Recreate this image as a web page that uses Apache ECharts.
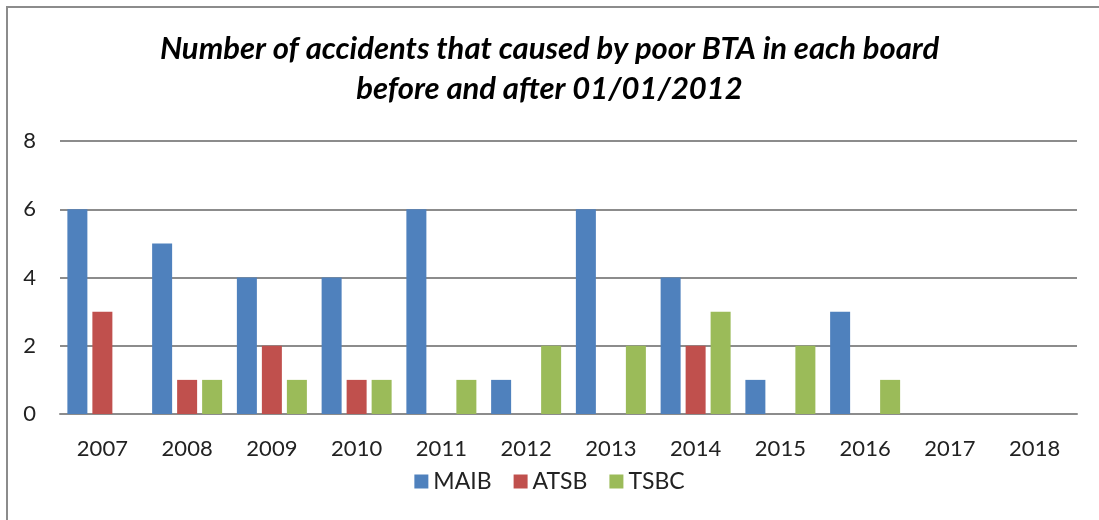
<!DOCTYPE html>
<html>
<head>
<meta charset="utf-8">
<script src="https://cdn.jsdelivr.net/npm/echarts@6/dist/echarts.min.js"></script>
<style>
  html, body { margin: 0; padding: 0; background: #fff; overflow: hidden; }
  #chart { width: 1099px; height: 520px; }
  .frame { position: absolute; left: 6px; top: 6px; right: 0; bottom: 0; border-left: 2px solid #8c8c8c; border-top: 2px solid #8c8c8c; pointer-events: none; }
</style>
</head>
<body>
<div id="chart"></div>
<div class="frame"></div>
<script>
const years = ["2007", "2008", "2009", "2010", "2011", "2012", "2013", "2014", "2015", "2016", "2017", "2018"]
const maib = [6, 5, 4, 4, 6, 1, 6, 4, 1, 3, 0, 0]
const atsb = [3, 1, 2, 1, 0, 0, 0, 2, 0, 0, 0, 0]
const tsbc = [0, 1, 1, 1, 1, 2, 2, 3, 2, 1, 0, 0]
const yTicks = { min: 0, max: 8, interval: 2 }

const chart = echarts.init(document.getElementById("chart"))

const bar = (name, data, color) => ({
  name,
  type: "bar",
  data,
  barWidth: 20,
  barGap: "25%",
  itemStyle: { color },
})

chart.setOption({
  animation: false,
  textStyle: { fontFamily: "Lato" },
  title: {
    text: "Number of accidents that caused by poor BTA in each board\nbefore and after 01/01/2012",
    left: "center",
    top: 24,
    textStyle: {
      fontFamily: "Lato",
      fontSize: 31,
      fontWeight: "bold",
      fontStyle: "italic",
      color: "#000",
      lineHeight: 40,
    },
  },
  legend: {
    bottom: 22,
    left: "center",
    itemWidth: 14,
    itemHeight: 14,
    itemGap: 22,
    icon: "rect",
    textStyle: { fontSize: 23, color: "#222", fontFamily: "Lato" },
  },
  grid: {
    left: 60,
    right: 22,
    top: 141,
    bottom: 106,
  },
  xAxis: {
    type: "category",
    data: years,
    axisTick: { show: false },
    axisLine: { lineStyle: { color: "#8c8c8c", width: 2 } },
    axisLabel: { fontSize: 22, color: "#222", margin: 24 },
  },
  yAxis: {
    type: "value",
    min: yTicks.min,
    max: yTicks.max,
    interval: yTicks.interval,
    axisLine: { show: false },
    axisTick: { show: false },
    axisLabel: { fontSize: 22, color: "#222", margin: 24 },
    splitLine: { lineStyle: { color: "#8c8c8c", width: 2 } },
  },
  series: [
    bar("MAIB", maib, "#4F81BD"),
    bar("ATSB", atsb, "#C0504D"),
    bar("TSBC", tsbc, "#9BBB59"),
  ],
})
</script>
</body>
</html>
